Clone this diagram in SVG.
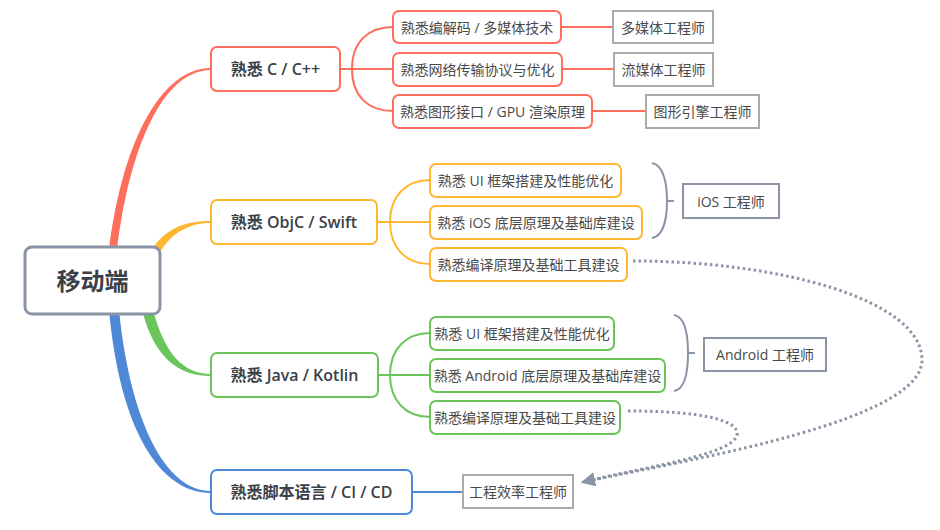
<svg xmlns="http://www.w3.org/2000/svg" width="940" height="530" viewBox="0 0 940 530">
<defs>
<style>
text{font-family:"Open Sans","Noto Sans CJK SC",sans-serif;fill:#3b3f47;dominant-baseline:central;text-anchor:middle}
.l1 text{font-size:16px;font-weight:600}
.l2 text,.res text{font-size:14px;fill:#4a4a4a}
.n{fill:#fff;stroke-width:2}
.red{stroke:#ff6e5d}.org{stroke:#ffb732}.grn{stroke:#6cc55a}.blu{stroke:#4f88d6}
.res rect{fill:#fff;stroke:#aaaaaa;stroke-width:2}
.res rect.dk{stroke:#8a94a6}
.ln{fill:none;stroke-width:2}
.dot{fill:none;stroke:#8a94a6;stroke-width:3;stroke-dasharray:2.5 3}
.br{fill:none;stroke:#8a94a6;stroke-width:2}
</style>
<marker id="ah" viewBox="0 0 10 10" refX="2" refY="5" markerWidth="14" markerHeight="14" markerUnits="userSpaceOnUse" orient="auto">
<path d="M0,0 L10,5 L0,10 Z" fill="#8a94a6"/>
</marker>
</defs>
<rect width="940" height="530" fill="#fff"/>
<g id="connectors">
<path d="M109,250 C121,150 158,68 211,68 L211,70 C162,70 129,150 117,250 Z" fill="#ff6e5d"/>
<path d="M150,252 C165,228 185,221 211,221 L211,223 C188,223 172,233 160,252 Z" fill="#ffb732"/>
<path d="M142,310 C155,360 180,376 211,376 L211,374 C184,374 165,355 153,310 Z" fill="#6cc55a"/>
<path d="M109,310 C120,430 160,493 211,493 L211,491 C165,491 130,420 119,310 Z" fill="#4f88d6"/>
<path class="ln red" d="M340,69 H393 M352,69 C352,42 368,27 393,27 M352,69 C352,96 368,111 393,111"/>
<path class="ln red" d="M561,27 H613 M562,69 H614 M592,111 H646"/>
<path class="ln org" d="M377,222 H430 M390,222 C390,196 406,180 430,180 M390,222 C390,248 406,264 430,264"/>
<path class="ln grn" d="M378,375 H430 M390,375 C390,349 406,333 430,333 M390,375 C390,401 406,417 430,417"/>
<path class="ln blu" d="M412,492 H463"/>
<path class="br" d="M652,163 C664,165 667,185 667,201 C667,217 664,236 652,238 M667,201 H674"/>
<path class="br" d="M674,315 C686,317 688,337 688,353 C688,369 686,389 674,391 M688,353 H695"/>
<path class="dot" d="M633,261 C780,261 922,300 922,360 C922,420 700,458 592,480" marker-end="url(#ah)"/>
<path class="dot" d="M628,411 C700,411 740,420 737,435 C733,455 640,468 592,480" marker-end="url(#ah)"/>
</g>
<g id="root">
<rect x="25" y="247" width="135" height="67" rx="7" fill="#fff" stroke="#8a94a6" stroke-width="3"/>
<text x="92.5" y="280" style="font-size:24px;font-weight:600">移动端</text>
</g>
<g id="n-c" class="l1"><rect class="n red" x="211" y="47" width="129" height="44" rx="6"/><text x="275.5" y="69">熟悉 C / C++</text></g>
<g id="n-objc" class="l1"><rect class="n org" x="211" y="200" width="166" height="44" rx="6"/><text x="294" y="222">熟悉 ObjC / Swift</text></g>
<g id="n-java" class="l1"><rect class="n grn" x="211" y="353" width="167" height="44" rx="6"/><text x="294.5" y="375">熟悉 Java / Kotlin</text></g>
<g id="n-script" class="l1"><rect class="n blu" x="211" y="470" width="201" height="44" rx="6"/><text x="311.5" y="492">熟悉脚本语言 / CI / CD</text></g>
<g id="c1" class="l2"><rect class="n red" x="393" y="11" width="168" height="32" rx="6"/><text x="477" y="27">熟悉编解码 / 多媒体技术</text></g>
<g id="c2" class="l2"><rect class="n red" x="393" y="53" width="169" height="33" rx="6"/><text x="477.5" y="69.5">熟悉网络传输协议与优化</text></g>
<g id="c3" class="l2"><rect class="n red" x="393" y="95" width="199" height="33" rx="6"/><text x="492.5" y="111.5">熟悉图形接口 / GPU 渲染原理</text></g>
<g id="o1" class="l2"><rect class="n org" x="430" y="164" width="191" height="33" rx="6"/><text x="525.5" y="180.5">熟悉 UI 框架搭建及性能优化</text></g>
<g id="o2" class="l2"><rect class="n org" x="430" y="206" width="212" height="33" rx="6"/><text x="536" y="222.5">熟悉 iOS 底层原理及基础库建设</text></g>
<g id="o3" class="l2"><rect class="n org" x="430" y="248" width="197" height="33" rx="6"/><text x="528.5" y="264.5">熟悉编译原理及基础工具建设</text></g>
<g id="g1" class="l2"><rect class="n grn" x="430" y="317" width="184" height="33" rx="6"/><text x="522" y="333.5">熟悉 UI 框架搭建及性能优化</text></g>
<g id="g2" class="l2"><rect class="n grn" x="430" y="359" width="235" height="33" rx="6"/><text x="547.5" y="375.5">熟悉 Android 底层原理及基础库建设</text></g>
<g id="g3" class="l2"><rect class="n grn" x="430" y="401" width="190" height="33" rx="6"/><text x="525" y="417.5">熟悉编译原理及基础工具建设</text></g>
<g id="r1" class="res"><rect x="613" y="11" width="100" height="32"/><text x="663" y="27">多媒体工程师</text></g>
<g id="r2" class="res"><rect x="614" y="53" width="99" height="33"/><text x="663.5" y="69.5">流媒体工程师</text></g>
<g id="r3" class="res"><rect x="646" y="95" width="113" height="33"/><text x="702.5" y="111.5">图形引擎工程师</text></g>
<g id="r-ios" class="res"><rect class="dk" x="683" y="184" width="96" height="34"/><text x="731" y="201">iOS 工程师</text></g>
<g id="r-android" class="res"><rect class="dk" x="704" y="338" width="122" height="33"/><text x="765" y="354.5">Android 工程师</text></g>
<g id="r-eff" class="res"><rect x="463" y="475" width="110" height="33"/><text x="518" y="491.5">工程效率工程师</text></g>
</svg>
